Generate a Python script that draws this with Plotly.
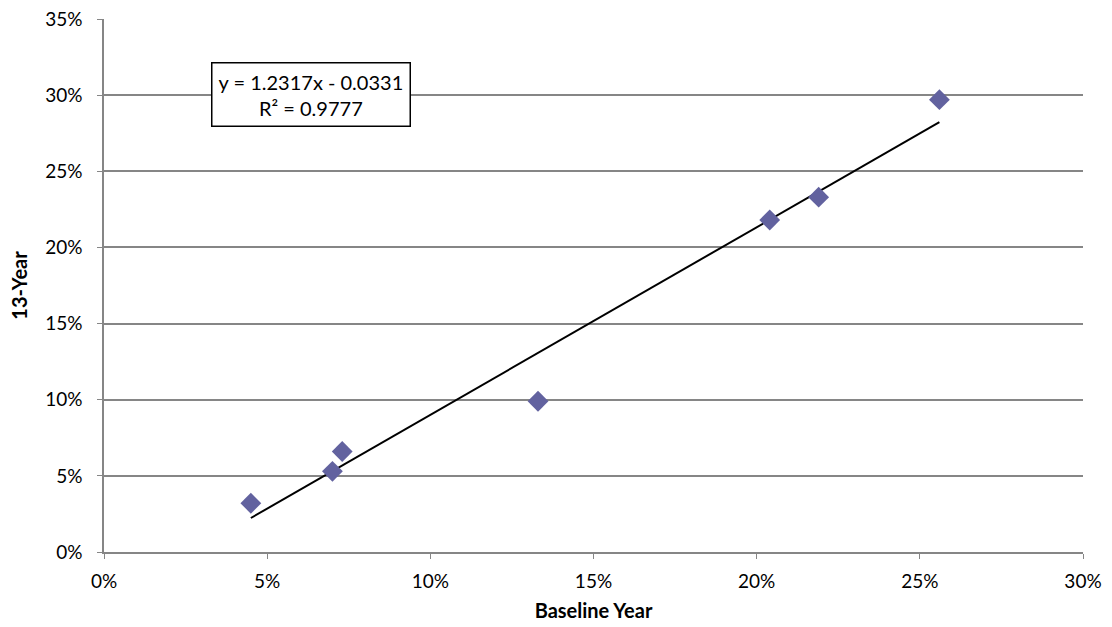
import plotly.graph_objects as go

# Data (fractions)
baseline_year = [0.045, 0.070, 0.073, 0.133, 0.204, 0.219, 0.256]
thirteen_year = [0.032, 0.053, 0.066, 0.099, 0.218, 0.233, 0.297]
slope = 1.2317
intercept = -0.0331
r_squared = 0.9777
x_ticks = [0, 0.05, 0.10, 0.15, 0.20, 0.25, 0.30]
y_ticks = [0, 0.05, 0.10, 0.15, 0.20, 0.25, 0.30, 0.35]

xmin, xmax = min(baseline_year), max(baseline_year)
trend_x = [xmin, xmax]
trend_y = [slope * v + intercept for v in trend_x]

FONT = "Lato, 'Open Sans', sans-serif"

fig = go.Figure()
fig.add_trace(go.Scatter(
    x=trend_x, y=trend_y, mode="lines",
    line=dict(color="black", width=2), showlegend=False, hoverinfo="skip"))
fig.add_trace(go.Scatter(
    x=baseline_year, y=thirteen_year, mode="markers",
    marker=dict(symbol="diamond", size=16, color="#62629F",
                line=dict(width=0)),
    showlegend=False))

fig.add_annotation(
    x=0.0634, y=0.3005, xref="x", yref="y",
    text=f"y = {slope}x - {abs(intercept)}<br>R² = {r_squared}",
    showarrow=False, align="center",
    font=dict(family=FONT, size=20, color="black"),
    bordercolor="black", borderwidth=1.5, borderpad=6, bgcolor="white")

fig.update_layout(
    width=1112, height=627,
    margin=dict(l=104, r=29, t=19, b=75),
    paper_bgcolor="white", plot_bgcolor="white",
    font=dict(family=FONT, size=19, color="black"),
    xaxis=dict(
        range=[0, 0.30], tickvals=x_ticks, tickformat=".0%",
        showgrid=False, zeroline=False, automargin=False,
        showline=True, linecolor="#868686", linewidth=1.5,
        ticks="outside", tickcolor="#868686", ticklen=5,
        ticklabelstandoff=6,
        title=dict(text="<b>Baseline Year</b>", font=dict(size=20), standoff=13),
    ),
    yaxis=dict(
        range=[0, 0.35], tickvals=y_ticks, tickformat=".0%",
        showgrid=True, gridcolor="#868686", gridwidth=1.5, zeroline=False,
        automargin=False,
        showline=True, linecolor="#868686", linewidth=1.5,
        ticks="outside", tickcolor="#868686", ticklen=5,
        ticklabelstandoff=11,
        title=dict(text="<b>13-Year</b>", font=dict(size=20), standoff=12),
    ),
)

fig.write_html(
    "out.html",
    config={"displayModeBar": False},
    post_script="document.body.style.margin='0';document.body.style.padding='0';"
)
